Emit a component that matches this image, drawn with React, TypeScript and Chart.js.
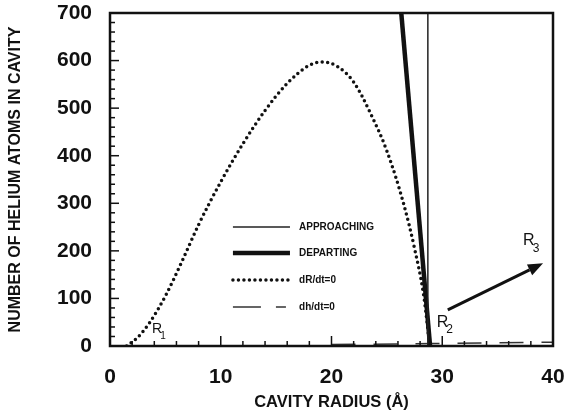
import React, { useEffect, useRef } from "react";
import { Chart, registerables } from "chart.js";

Chart.register(...registerables);

// ---- data ----
const dRdtX = [1.5, 2.5, 3.6, 5.0, 6.5, 8.0, 10.0, 12.0, 14.0, 16.0, 18.0, 19.2, 20.5, 22.0, 23.5, 25.0, 26.5, 27.5, 28.3, 28.7, 28.85];
const dRdtY = [0, 18, 50, 105, 178, 255, 345, 425, 495, 552, 590, 597, 588, 555, 490, 410, 300, 205, 110, 35, 0];
const approachX = [28.7, 28.7];
const approachY = [0, 700];
const departX = [26.3, 28.9];
const departY = [700, 0];
const dhdtX = [20, 29, 40];
const dhdtY = [3, 5, 8];

const xMin = 0, xMax = 40, xStep = 10, xMinorStep = 2;
const yMin = 0, yMax = 700, yStep = 100, yMinorStep = 20;

const seriesLabels = ["APPROACHING", "DEPARTING", "dR/dt=0", "dh/dt=0"];
const xTitle = "CAVITY RADIUS (Å)";
const yTitle = "NUMBER OF HELIUM ATOMS IN CAVITY";

// annotation labels: [main, subscript, x, y]
const rLabels: [string, string, number, number][] = [
  ["R", "1", 3.8, 27],
  ["R", "2", 29.5, 40],
  ["R", "3", 37.3, 212],
];
const arrowFrom = [30.5, 76];
const arrowTo = [39.1, 174];

const zip = (xs: number[], ys: number[]) => xs.map((x, i) => ({ x, y: ys[i] }));

const framePlugin = {
  id: "framePlugin",
  afterDraw(chart: any) {
    const { ctx, chartArea: ca, scales } = chart;
    const xs = scales.x, ys = scales.y;
    ctx.save();
    ctx.strokeStyle = "#111";
    ctx.fillStyle = "#111";
    // frame
    ctx.lineWidth = 2.5;
    ctx.strokeRect(ca.left, ca.top, ca.right - ca.left, ca.bottom - ca.top);
    // inward ticks
    ctx.lineWidth = 1.5;
    for (let v = yMin; v <= yMax; v += yMinorStep) {
      const p = ys.getPixelForValue(v);
      const len = v % yStep === 0 ? 9 : 5;
      ctx.beginPath();
      ctx.moveTo(ca.left, p);
      ctx.lineTo(ca.left + len, p);
      ctx.stroke();
    }
    for (let v = xMin; v <= xMax; v += xMinorStep) {
      const p = xs.getPixelForValue(v);
      const len = v % xStep === 0 ? 10 : 5;
      ctx.beginPath();
      ctx.moveTo(p, ca.bottom);
      ctx.lineTo(p, ca.bottom - len);
      ctx.stroke();
    }
    // legend
    const lx0 = xs.getPixelForValue(11.1);
    const lx1 = xs.getPixelForValue(16.25);
    const tx = xs.getPixelForValue(17.07);
    const rowsV = [250, 195.5, 139, 82];
    chart.data.datasets.forEach((ds: any, i: number) => {
      const yy = ys.getPixelForValue(rowsV[i]);
      ctx.save();
      ctx.lineWidth = ds.borderWidth;
      ctx.strokeStyle = ds.borderColor;
      ctx.lineCap = ds.borderCapStyle || "butt";
      ctx.setLineDash(ds.legendDash || []);
      ctx.beginPath();
      ctx.moveTo(lx0, yy);
      ctx.lineTo(lx1, yy);
      ctx.stroke();
      ctx.restore();
      ctx.font = "bold 10px 'Liberation Sans', Arial, sans-serif";
      ctx.textBaseline = "middle";
      ctx.textAlign = "left";
      ctx.fillText(ds.label, tx, yy);
    });
    // R labels
    rLabels.forEach(([m, s, vx, vy], i) => {
      const px = xs.getPixelForValue(vx);
      const py = ys.getPixelForValue(vy);
      const size = i === 0 ? 14 : 16;
      ctx.font = `${size}px 'Liberation Sans', Arial, sans-serif`;
      ctx.textBaseline = "alphabetic";
      ctx.textAlign = "left";
      ctx.fillText(m, px, py);
      const w = ctx.measureText(m).width;
      ctx.font = `${Math.round(size * 0.72)}px 'Liberation Sans', Arial, sans-serif`;
      ctx.fillText(s, px + w - 2, py + size * 0.4);
    });
    // arrow
    const ax0 = xs.getPixelForValue(arrowFrom[0]);
    const ay0 = ys.getPixelForValue(arrowFrom[1]);
    const ax1 = xs.getPixelForValue(arrowTo[0]);
    const ay1 = ys.getPixelForValue(arrowTo[1]);
    const ang = Math.atan2(ay1 - ay0, ax1 - ax0);
    const head = 15, hw = 6;
    const bx = ax1 - head * Math.cos(ang);
    const by = ay1 - head * Math.sin(ang);
    ctx.lineWidth = 3;
    ctx.beginPath();
    ctx.moveTo(ax0, ay0);
    ctx.lineTo(bx, by);
    ctx.stroke();
    ctx.beginPath();
    ctx.moveTo(ax1, ay1);
    ctx.lineTo(bx + hw * Math.sin(ang), by - hw * Math.cos(ang));
    ctx.lineTo(bx - hw * Math.sin(ang), by + hw * Math.cos(ang));
    ctx.closePath();
    ctx.fill();
    ctx.restore();
  },
};

const zeroPad = (s: any) => {
  s.paddingTop = 0;
  s.paddingBottom = 0;
  s.paddingLeft = 0;
  s.paddingRight = 0;
};

export default function App() {
  const ref = useRef<HTMLCanvasElement>(null);
  useEffect(() => {
    if (!ref.current) return;
    const chart = new Chart(ref.current, {
      type: "line",
      data: {
        datasets: [
          {
            label: seriesLabels[0],
            data: zip(approachX, approachY),
            borderColor: "#222",
            borderWidth: 1.5,
            pointRadius: 0,
            legendDash: [],
          } as any,
          {
            label: seriesLabels[1],
            data: zip(departX, departY),
            borderColor: "#111",
            borderWidth: 4.5,
            pointRadius: 0,
            legendDash: [],
          } as any,
          {
            label: seriesLabels[2],
            data: zip(dRdtX, dRdtY),
            borderColor: "#111",
            borderWidth: 3.5,
            borderDash: [0, 5.5],
            borderCapStyle: "round",
            cubicInterpolationMode: "monotone",
            pointRadius: 0,
            legendDash: [0, 5.5],
          } as any,
          {
            label: seriesLabels[3],
            data: zip(dhdtX, dhdtY),
            borderColor: "#333",
            borderWidth: 1.5,
            borderDash: [24, 18],
            pointRadius: 0,
            legendDash: [28, 15, 10, 100],
          } as any,
        ],
      },
      options: {
        animation: false,
        responsive: false,
        devicePixelRatio: 1,
        layout: { padding: { top: 13, right: 17, left: 0, bottom: 0 } },
        plugins: { legend: { display: false }, tooltip: { enabled: false } },
        scales: {
          x: {
            type: "linear",
            min: xMin,
            max: xMax,
            grid: { display: false, drawTicks: false },
            border: { display: false },
            ticks: {
              stepSize: xStep,
              padding: 19,
              color: "#111",
              font: { family: "'Liberation Sans', Arial, sans-serif", size: 21, weight: "bold" },
            },
            title: {
              display: true,
              text: xTitle,
              color: "#111",
              padding: { top: 0, bottom: 3 },
              font: { family: "'Liberation Sans', Arial, sans-serif", size: 16.5, weight: "bold" },
            },
            afterFit: (s: any) => {
              s.height = 69;
              zeroPad(s);
            },
          },
          y: {
            type: "linear",
            min: yMin,
            max: yMax,
            grid: { display: false, drawTicks: false },
            border: { display: false },
            ticks: {
              stepSize: yStep,
              padding: 18,
              color: "#111",
              font: { family: "'Liberation Sans', Arial, sans-serif", size: 21, weight: "bold" },
            },
            title: {
              display: true,
              text: yTitle,
              color: "#111",
              padding: { top: 6, bottom: 0 },
              font: { family: "'Liberation Sans', Arial, sans-serif", size: 16, weight: "bold" },
            },
            afterFit: (s: any) => {
              s.width = 110;
              zeroPad(s);
            },
          },
        },
      } as any,
      plugins: [framePlugin],
    });
    return () => chart.destroy();
  }, []);
  return (
    <div style={{ position: "fixed", left: 0, top: 0, width: 570, height: 415, background: "#fff" }}>
      <canvas ref={ref} width={570} height={415} style={{ width: 570, height: 415 }} />
    </div>
  );
}
